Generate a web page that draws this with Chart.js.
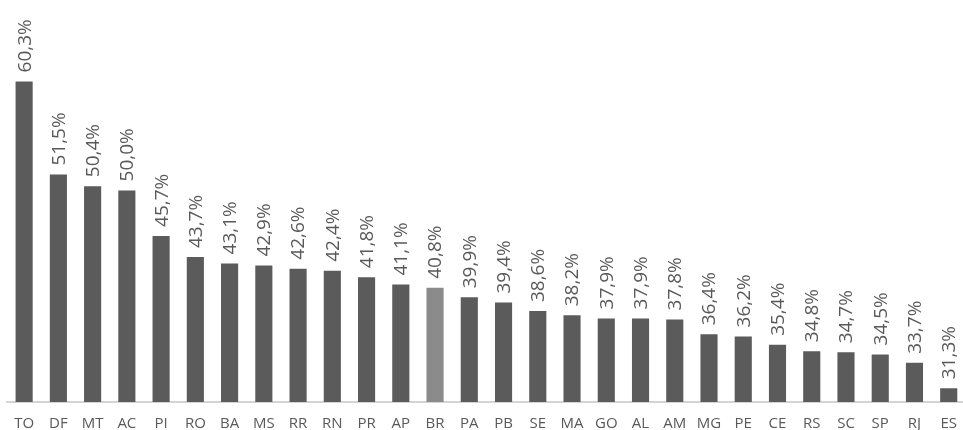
<!DOCTYPE html>
<html>
<head>
<meta charset="utf-8">
<script src="https://cdn.jsdelivr.net/npm/chart.js@4.4.1/dist/chart.umd.min.js"></script>
<style>
  html, body { margin: 0; padding: 0; background: #ffffff; overflow: hidden; }
  #wrap { position: relative; width: 970px; height: 446px; }
</style>
</head>
<body>
<div id="wrap"><canvas id="chart"></canvas></div>
<script>
// Share by state (UF), sorted from highest to lowest; BR is the national figure
const states = ['TO','DF','MT','AC','PI','RO','BA','MS','RR','RN','PR','AP','BR','PA','PB','SE','MA','GO','AL','AM','MG','PE','CE','RS','SC','SP','RJ','ES'];
const shares = [60.3,51.5,50.4,50.0,45.7,43.7,43.1,42.9,42.6,42.4,41.8,41.1,40.8,39.9,39.4,38.6,38.2,37.9,37.9,37.8,36.4,36.2,35.4,34.8,34.7,34.5,33.7,31.3];
const nationalCode = 'BR';

const barColor = '#5b5b5b';
const nationalColor = '#8b8b8b';
const textColor = '#595959';

const fmt = v => v.toFixed(1).replace('.', ',') + '%';

// Vertical value labels written above each bar
const valueLabels = {
  id: 'valueLabels',
  afterDatasetsDraw(chart) {
    const ctx = chart.ctx;
    const meta = chart.getDatasetMeta(0);
    ctx.save();
    ctx.font = '19px "Open Sans", sans-serif';
    ctx.fillStyle = textColor;
    ctx.textAlign = 'left';
    ctx.textBaseline = 'middle';
    meta.data.forEach((bar, i) => {
      ctx.save();
      ctx.translate(bar.x + 1, bar.y - 9);
      ctx.rotate(-Math.PI / 2);
      ctx.fillText(fmt(shares[i]), 0, 0);
      ctx.restore();
    });
    ctx.restore();
  }
};

new Chart(document.getElementById('chart'), {
  type: 'bar',
  data: {
    labels: states,
    datasets: [{
      data: shares,
      backgroundColor: states.map(s => s === nationalCode ? nationalColor : barColor),
      borderWidth: 0,
      categoryPercentage: 1,
      barPercentage: 0.5
    }]
  },
  options: {
    responsive: true,
    maintainAspectRatio: false,
    animation: false,
    layout: { padding: { left: 7, right: 0, top: 0, bottom: 0 } },
    plugins: { legend: { display: false }, tooltip: { enabled: false } },
    scales: {
      x: {
        grid: { display: false, drawTicks: false },
        border: { display: true, color: '#d4d4d4', width: 2 },
        ticks: {
          color: textColor,
          font: { family: '"Open Sans", sans-serif', size: 15 },
          padding: 13,
          maxRotation: 0,
          autoSkip: false
        }
      },
      y: {
        display: false,
        min: 30,
        max: 68
      }
    }
  },
  plugins: [valueLabels]
});
</script>
</body>
</html>
